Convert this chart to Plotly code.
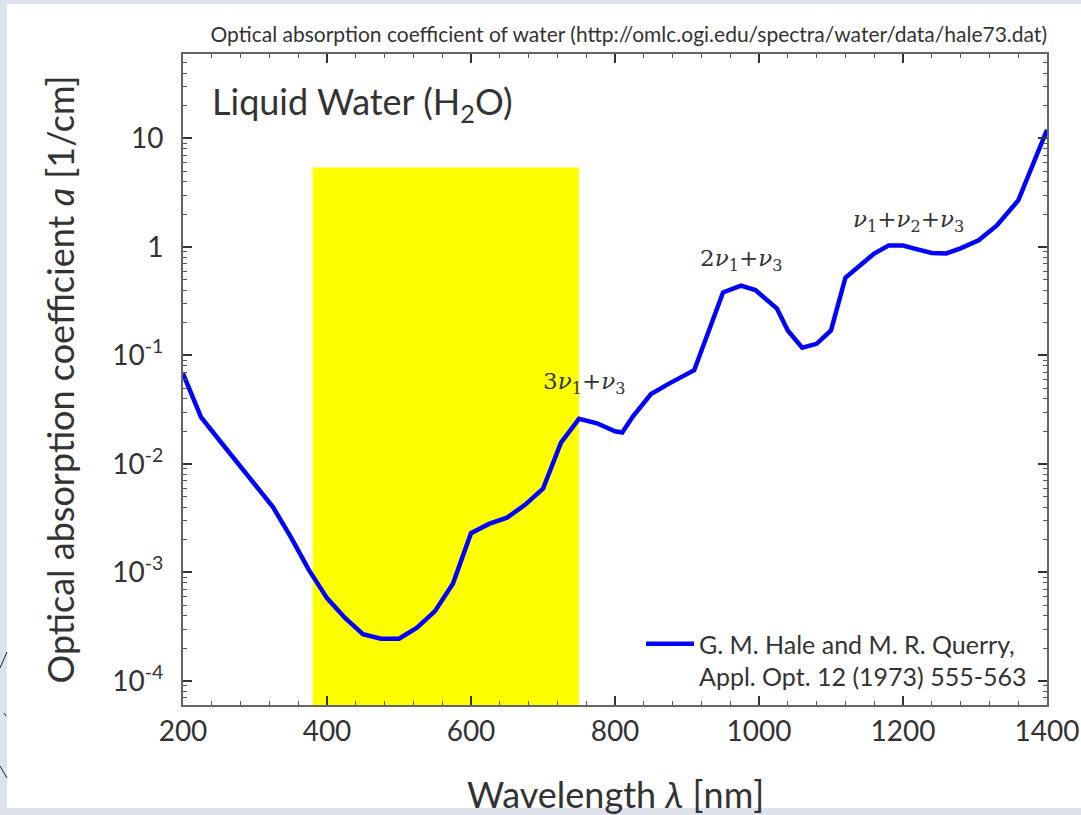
import math
import plotly.graph_objects as go

# ---- data ----
wavelength_nm = [200, 225, 250, 275, 300, 325, 350, 375, 400, 425, 450, 475, 500,
                 525, 550, 575, 600, 625, 650, 675, 700, 725, 750, 775, 800, 810,
                 825, 850, 875, 900, 910, 950, 975, 995, 1025, 1040, 1060, 1080,
                 1100, 1120, 1135, 1160, 1180, 1200, 1220, 1240, 1260, 1280, 1305,
                 1330, 1360, 1380, 1400]
absorption_per_cm = [0.068, 0.027, 0.0167, 0.0104, 0.0065, 0.0040, 0.0021, 0.00105,
                     0.00058, 0.00038, 0.00027, 0.000245, 0.000245, 0.00031, 0.00044,
                     0.00079, 0.0023, 0.0028, 0.0032, 0.0042, 0.0059, 0.0157, 0.026,
                     0.0237, 0.0200, 0.0195, 0.0275, 0.044, 0.055, 0.068, 0.073, 0.38,
                     0.44, 0.40, 0.27, 0.17, 0.118, 0.128, 0.17, 0.52, 0.63, 0.87, 1.03,
                     1.03, 0.95, 0.88, 0.87, 0.97, 1.15, 1.57, 2.68, 5.6, 12.0]

visible_band_nm = [380, 750]
visible_band_top = 5.4

y_tick_values = [1e-4, 1e-3, 1e-2, 1e-1, 1, 10]
y_tick_labels = ["10<sup>-4</sup>", "10<sup>-3</sup>", "10<sup>-2</sup>",
                 "10<sup>-1</sup>", "1", "10"]
x_tick_values = [200, 400, 600, 800, 1000, 1200, 1400]

legend_name = "G. M. Hale and M. R. Querry,<br>Appl. Opt. 12 (1973) 555-563"
title_text = "Optical absorption coefficient of water (http://omlc.ogi.edu/spectra/water/data/hale73.dat)"
x_title = "Wavelength <i>λ</i> [nm]"
y_title = "Optical absorption coefficient <i>a</i> [1/cm]"

bands = [
    ("3<i>ν</i><sub>1</sub>+<i>ν</i><sub>3</sub>", 757, 0.056),
    ("2<i>ν</i><sub>1</sub>+<i>ν</i><sub>3</sub>", 975, 0.75),
    ("<i>ν</i><sub>1</sub>+<i>ν</i><sub>2</sub>+<i>ν</i><sub>3</sub>", 1207, 1.75),
]

SANS = "Lato, 'Open Sans', sans-serif"
SERIF = "'DejaVu Serif', 'Liberation Serif', serif"
TXT = "#333333"
AX = "#666666"
FRAME = "#dde2ec"

# plot area geometry (pixels)
L, T, PW, PH = 183, 54, 864, 651
W, H = 1081, 815


def px(xp):
    return (xp - L) / PW


def py(yp):
    return (T + PH - yp) / PH


fig = go.Figure()

# visible band (yellow)
fig.add_trace(go.Scatter(
    x=[visible_band_nm[0], visible_band_nm[1], visible_band_nm[1], visible_band_nm[0]],
    y=[1e-6, 1e-6, visible_band_top, visible_band_top],
    fill="toself", fillcolor="#ffff00", mode="none", showlegend=False,
    hoverinfo="skip"))

fig.add_trace(go.Scatter(
    x=wavelength_nm, y=absorption_per_cm, mode="lines",
    line=dict(color="#0000ff", width=4.5), name=legend_name))

minor_y = [m * 10 ** e for e in range(-5, 2) for m in range(2, 10)]

fig.update_xaxes(
    range=[200, 1400], tickvals=x_tick_values, automargin=False,
    ticks="inside", ticklen=9, tickwidth=1.5, tickcolor="#333",
    minor=dict(dtick=40, ticks="inside", ticklen=4, tickcolor="#555", tickwidth=1),
    showline=True, linecolor=AX, linewidth=2, mirror="ticks",
    showgrid=False, zeroline=False, ticklabelstandoff=0,
    tickfont=dict(family=SANS, size=28, color=TXT),
)
fig.update_yaxes(
    type="log", range=[math.log10(6e-5), math.log10(60)], automargin=False,
    tickvals=y_tick_values, ticktext=y_tick_labels,
    ticks="inside", ticklen=9, tickwidth=1.5, tickcolor="#333",
    minor=dict(tickvals=minor_y, ticks="inside", ticklen=4, tickcolor="#555", tickwidth=1),
    showline=True, linecolor=AX, linewidth=2, mirror="ticks",
    showgrid=False, zeroline=False, ticklabelstandoff=12,
    tickfont=dict(family=SANS, size=28, color=TXT),
    title=dict(text=y_title, font=dict(family=SANS, size=36, color=TXT), standoff=27),
)

# x-axis title placed as a paper annotation
fig.add_annotation(x=px(615), y=py(794), xref="paper", yref="paper",
                   xanchor="center", yanchor="middle", text=x_title, showarrow=False,
                   font=dict(family=SANS, size=36, color=TXT))

for text, xv, yv in bands:
    fig.add_annotation(x=xv, y=math.log10(yv), xref="x", yref="y", text=text,
                       showarrow=False, font=dict(family=SERIF, size=23, color=TXT))

fig.add_annotation(x=px(210), y=py(103), xref="paper", yref="paper",
                   xanchor="left", yanchor="middle", text="Liquid Water (H<sub>2</sub>O)",
                   showarrow=False, font=dict(family=SANS, size=36, color=TXT))

# white page on the light blue-grey frame
fig.add_shape(type="rect", xref="paper", yref="paper",
              x0=px(7), x1=px(W + 5), y0=py(808), y1=py(4),
              fillcolor="white", line=dict(width=0), layer="below")
# small dark marks at the left frame edge
for (xa, ya, xb, yb) in [(7, 652, 0, 668), (4, 713, 6, 716), (0, 766, 7, 778)]:
    fig.add_shape(type="line", xref="paper", yref="paper",
                  x0=px(xa), y0=py(ya), x1=px(xb), y1=py(yb),
                  line=dict(color="#222222", width=1))

fig.update_layout(
    width=W, height=H,
    margin=dict(l=L, r=W - L - PW, t=T, b=H - T - PH),
    paper_bgcolor=FRAME, plot_bgcolor="white",
    title=dict(text=title_text, xref="paper", x=1, xanchor="right",
               yref="container", y=1 - 35 / H, yanchor="middle",
               font=dict(family=SANS, size=21, color=TXT)),
    legend=dict(x=px(1032), y=py(621), xanchor="right", yanchor="top",
                bgcolor="rgba(0,0,0,0)", valign="top", tracegroupgap=0,
                itemwidth=48,
                font=dict(family=SANS, size=25, color=TXT)),
    showlegend=True,
)

fig.write_html(
    "out.html",
    config={"displayModeBar": False},
    post_script="document.body.style.margin='0';document.body.style.overflow='hidden';",
)
